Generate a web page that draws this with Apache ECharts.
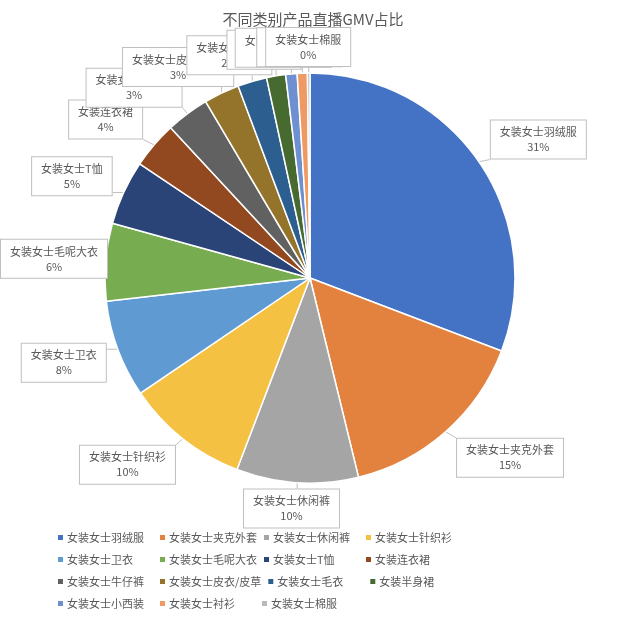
<!DOCTYPE html>
<html>
<head>
<meta charset="utf-8">
<script src="https://cdn.jsdelivr.net/npm/echarts@6/dist/echarts.min.js"></script>
<style>
html,body{margin:0;padding:0;background:#fff;}
#c{width:621px;height:620px;}
</style>
</head>
<body>
<div id="c"></div>
<script>
var titleText = '不同类别产品直播GMV占比';
var categories = ['女装女士羽绒服','女装女士夹克外套','女装女士休闲裤','女装女士针织衫','女装女士卫衣','女装女士毛呢大衣','女装女士T恤','女装连衣裙','女装女士牛仔裤','女装女士皮衣/皮草','女装女士毛衣','女装半身裙','女装女士小西装','女装女士衬衫','女装女士棉服'];
var values = [30.8,15.4,9.6,9.7,7.7,6.1,5.1,3.7,3.4,2.8,2.3,1.5,0.9,0.8,0.2];
var colors = ['#4472C4','#E3823F','#A5A5A5','#F4C142','#5F9BD2','#77AC50','#2A4478','#93491F','#616161','#94742A','#2C5F8F','#466A30','#6E90D0','#EE9A62','#B9B9B9'];

var CENTER = [310, 278], RADIUS = 205;
var total = values.reduce(function(a,b){return a+b;},0);
var cum = [];
values.reduce(function(s,v,i){cum[i]=s; return s+v;},0);
var data = categories.map(function(n,i){return {name:n,value:values[i]};});

function clamp(v,a,b){return Math.max(a,Math.min(b,v));}

var chart = echarts.init(document.getElementById('c'));
chart.setOption({
  color: colors,
  title: {
    text: titleText, left: 308, top: 7, textAlign: 'center',
    textStyle: {fontSize: 15, fontWeight: 'normal', color: '#595959', fontFamily: 'Noto Sans CJK SC'}
  },
  legend: {
    left: 51, top: 524, width: 420,
    itemWidth: 7, itemHeight: 7, itemGap: 5, icon: 'rect',
    textStyle: {fontSize: 11, color: '#595959', width: 86, height: 17, lineHeight: 17, fontFamily: 'Noto Sans CJK SC', padding: [0,0,0,-2]}
  },
  series: [{
    type: 'pie',
    center: CENTER,
    radius: RADIUS,
    startAngle: 90,
    clockwise: true,
    avoidLabelOverlap: false,
    data: data,
    itemStyle: {borderColor: '#fff', borderWidth: 1.5},
    label: {
      show: true, position: 'outside',
      formatter: function(p){ return '{t|' + p.name + '}\n{t|' + Math.round(p.value/total*100) + '%}'; },
      rich: {t: {fontSize: 11, color: '#595959', lineHeight: 15, align: 'center', fontFamily: 'Noto Sans CJK SC'}},
      backgroundColor: '#fff', borderColor: '#BFBFBF', borderWidth: 1,
      padding: [4, 9]
    },
    labelLine: {show: true, length: 8, length2: 4, lineStyle: {color: '#BFBFBF', width: 1}},
    labelLayout: function(params){
      var i = params.dataIndex;
      var a = (cum[i] + values[i]/2) / total * Math.PI * 2;
      var s = Math.sin(a), c = Math.cos(a);
      var px = CENTER[0] + RADIUS * s, py = CENTER[1] - RADIUS * c;
      var w = params.labelRect.width, h = params.labelRect.height;
      var dx = (w/2 + 11) * clamp(s*1.5, -1, 1);
      var dy = -(h/2 + 6) * clamp(c*1.5, -1, 1);
      var x = clamp(px + dx, w/2, 621 - w/2);
      var y = py + dy;
      var nx = clamp(px, x - w/2, x + w/2), ny = clamp(py, y - h/2, y + h/2);
      return {
        x: x, y: y, align: 'center', verticalAlign: 'middle',
        labelLinePoints: [[px, py], [nx, ny]]
      };
    },
    emphasis: {disabled: true}
  }]
});
</script>
</body>
</html>
